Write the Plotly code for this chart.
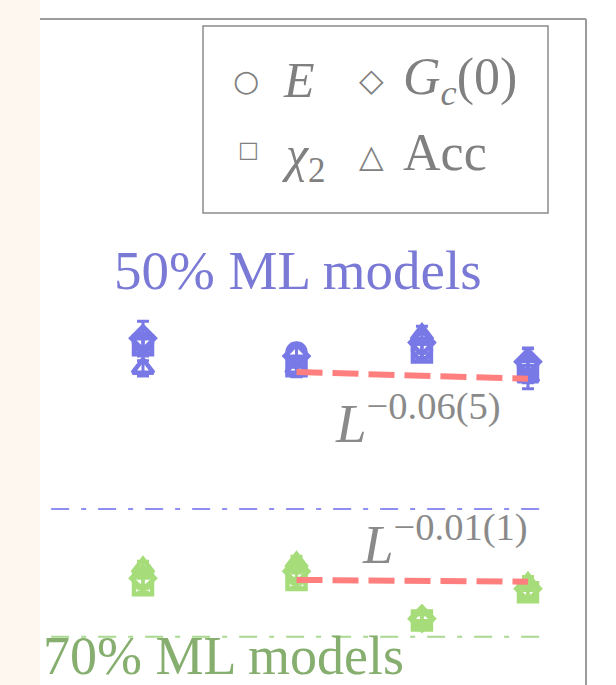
import plotly.graph_objects as go

# System sizes
L = [8, 10, 12, 14]

# 50% ML models: metric values per system size
blue_E = [0.394, 0.383, 0.386, 0.369]
blue_chi2 = [0.391, 0.368, 0.383, 0.364]
blue_Gc = [0.399, 0.379, 0.394, 0.373]
blue_Acc = [0.366, 0.366, 0.403, 0.357]
blue_E_err = [0.007, 0.009, 0.009, 0.018]
blue_chi2_err = [0.007, 0.011, 0.009, 0.011]
blue_Gc_err = [0.020, 0.012, 0.012, 0.015]
blue_Acc_err = [0.008, 0.008, 0.010, 0.012]

# 70% ML models
green_E = [0.199, 0.202, 0.177, 0.193]
green_chi2 = [0.196, 0.199, 0.177, 0.192]
green_Gc = [0.200, 0.204, 0.178, 0.194]
green_Acc = [0.206, 0.209, 0.179, 0.197]
green_E_err = [0.004, 0.004, 0.003, 0.004]
green_chi2_err = [0.004, 0.004, 0.003, 0.004]
green_Gc_err = [0.004, 0.004, 0.003, 0.004]
green_Acc_err = [0.004, 0.004, 0.003, 0.004]

# Power-law fits over the three largest sizes
fit_L = [10, 14]
fit_blue = [0.362, 0.355]
fit_green = [0.199, 0.198]
fit_blue_label = "−0.06(5)"
fit_green_label = "−0.01(1)"

# Reference levels
ref_L = [7, 14.4]
ref_blue = [0.244, 0.244]
ref_green = [0.169, 0.169]

metric_symbols = ["circle-open", "square-open", "diamond-open", "triangle-up-open"]

BLUE = "#7878e6"
GREEN = "#a6dd7a"
RED = "#ff7f7f"
GRAY = "#808080"
SERIF = "Liberation Serif"

W, H = 616, 685
ML, MR, MT, MB = 0, 30, 19, 0
PW, PH = W - ML - MR, H - MT - MB


def px(x):
    return (x - ML) / PW


def py(y):
    return (H - MB - y) / PH


fig = go.Figure()

groups = [
    (BLUE, [blue_E, blue_chi2, blue_Gc, blue_Acc],
     [blue_E_err, blue_chi2_err, blue_Gc_err, blue_Acc_err]),
    (GREEN, [green_E, green_chi2, green_Gc, green_Acc],
     [green_E_err, green_chi2_err, green_Gc_err, green_Acc_err]),
]

for color, series, errors in groups:
    for sym, ys, es in zip(metric_symbols, series, errors):
        fig.add_trace(go.Scatter(
            x=L, y=ys, mode="markers",
            marker=dict(symbol=sym, size=18, color=color,
                        line=dict(width=4.5, color=color)),
            error_y=dict(type="data", array=es, visible=True,
                         color=color, thickness=3, width=6),
            showlegend=False,
        ))

fig.add_trace(go.Scatter(x=ref_L, y=ref_blue, mode="lines",
                         line=dict(color="#8e8ef0", width=2, dash="18px,12px,5px,12px"),
                         showlegend=False))
fig.add_trace(go.Scatter(x=ref_L, y=ref_green, mode="lines",
                         line=dict(color="#a9d98e", width=2, dash="18px,12px,5px,12px"),
                         showlegend=False))

fig.add_trace(go.Scatter(x=fit_L, y=fit_blue, mode="lines",
                         line=dict(color=RED, width=6, dash="26px,10px"),
                         showlegend=False))
fig.add_trace(go.Scatter(x=fit_L, y=fit_green, mode="lines",
                         line=dict(color=RED, width=6, dash="26px,10px"),
                         showlegend=False))

shapes = [
    # frame (top and right edges)
    dict(type="line", xref="paper", yref="paper", x0=px(40), x1=1, y0=1, y1=1,
         line=dict(color="#9c9c9c", width=2)),
    dict(type="line", xref="paper", yref="paper", x0=1, x1=1, y0=-0.05, y1=1,
         line=dict(color="#9c9c9c", width=2)),
    # legend box
    dict(type="rect", xref="paper", yref="paper", x0=px(203), x1=px(548),
         y0=py(213), y1=py(26), line=dict(color="#8c8c8c", width=1.5)),
    # side strip
    dict(type="rect", xref="paper", yref="paper", x0=-0.05, x1=px(40),
         y0=-0.05, y1=1.1, fillcolor="#fdf7ef", line=dict(width=0), layer="above"),
]

ann = []


def text(x, y, s, size, color, anchor="left", family=SERIF):
    ann.append(dict(xref="paper", yref="paper", x=px(x), y=py(y), text=s,
                    showarrow=False, xanchor=anchor, yanchor="middle",
                    font=dict(family=family, size=size, color=color)))


# legend entries
text(246, 80, "○", 30, GRAY, "center", "DejaVu Sans")
text(281, 80, "<i>E</i>", 50, GRAY)
text(371, 80, "◇", 32, GRAY, "center", "DejaVu Sans")
text(401, 80, "<i>G</i><sub><i>c</i></sub>(0)", 52, GRAY)
text(248, 150, "□", 22, GRAY, "center", "DejaVu Sans")
text(280, 158, "<i>χ</i><sub>2</sub>", 50, GRAY)
text(371, 156, "△", 32, GRAY, "center", "DejaVu Sans")
text(401, 152, "Acc", 52, GRAY)

# group labels
text(112, 270, "50% ML models", 55, "#7a7ad6")
text(41, 656, "70% ML models", 54, "#86ae6e")

# fit exponents
text(333, 420, "<i>L</i><sup>" + fit_blue_label + "</sup>", 55, "#8a8a8a")
text(360, 540, "<i>L</i><sup>" + fit_green_label + "</sup>", 55, "#8a8a8a")

fig.update_layout(
    width=W, height=H,
    margin=dict(l=ML, r=MR, t=MT, b=MB, pad=0),
    paper_bgcolor="white", plot_bgcolor="white",
    xaxis=dict(type="log", range=[0.81281, 1.18276], visible=False),
    yaxis=dict(type="log", range=[-0.8325, 0], visible=False),
    shapes=shapes, annotations=ann,
    showlegend=False,
)

fig.write_html("out.html")
